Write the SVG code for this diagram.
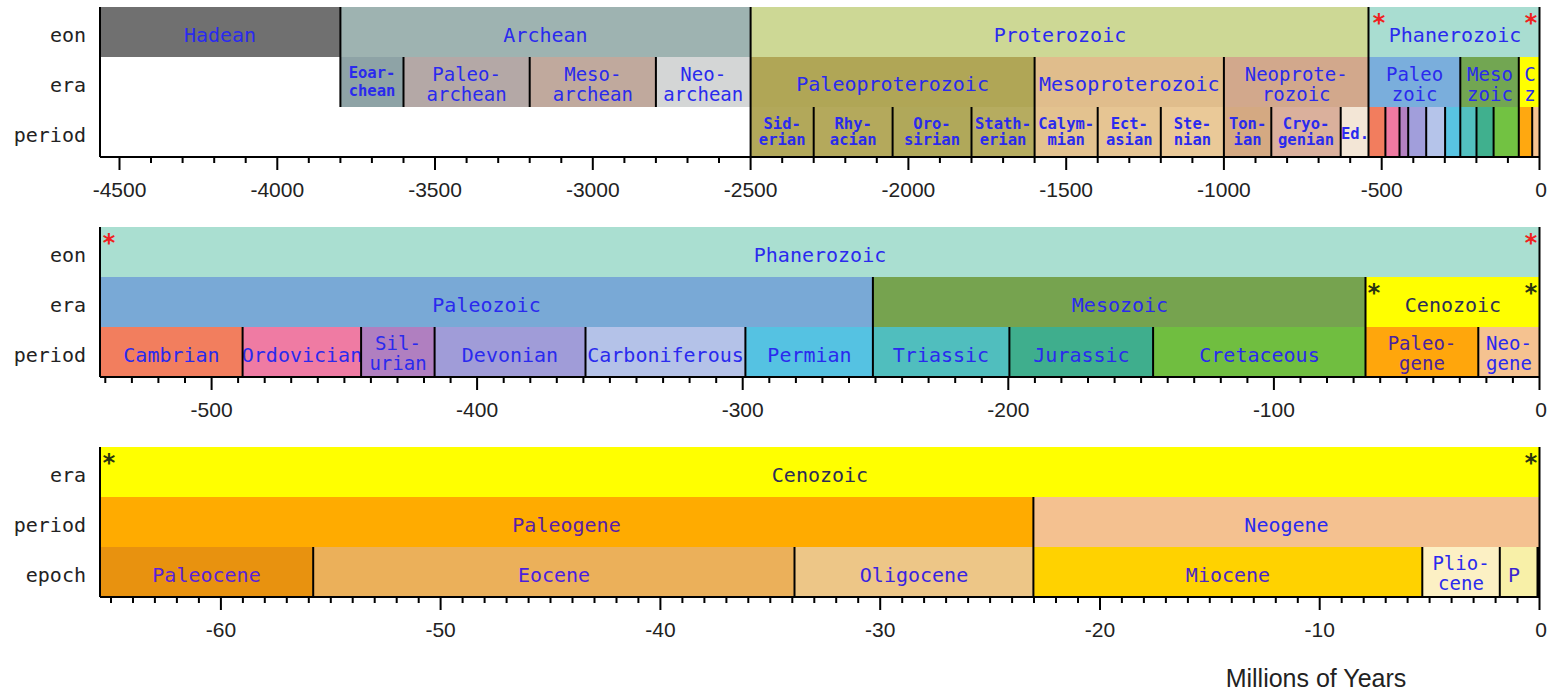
<svg xmlns="http://www.w3.org/2000/svg" width="1550" height="693" viewBox="0 0 1550 693">
<style>
.t{font-family:"DejaVu Sans Mono","Liberation Mono",monospace;font-size:20px;fill:#2a2aee;text-anchor:middle}
.t2{font-family:"DejaVu Sans Mono","Liberation Mono",monospace;font-size:19px;fill:#2a2aee;text-anchor:middle}
.s{font-family:"DejaVu Sans Mono","Liberation Mono",monospace;font-size:15.5px;font-weight:bold;fill:#2a2aee;text-anchor:middle}
.r{font-family:"DejaVu Sans Mono","Liberation Mono",monospace;font-size:20px;fill:#222;text-anchor:end}
.n{font-family:"Liberation Sans",Arial,sans-serif;font-size:21px;fill:#222;text-anchor:middle}
.ast{font-family:"DejaVu Sans Mono",monospace;font-size:24px;font-weight:bold;text-anchor:middle}
.red{fill:#f02020}
.dk{fill:#2a3410}
.sep{stroke:#000;stroke-width:2;fill:none}
.tk{stroke:#000;stroke-width:2;fill:none}
.ttl{font-family:"Liberation Sans",Arial,sans-serif;font-size:25px;fill:#222;text-anchor:middle}
</style>
<rect width="1550" height="693" fill="#fff"/>

<!-- ===== Panel 1 ===== -->
<g id="panel1-labels">
<text class="r" x="86" y="42">eon</text>
<text class="r" x="86" y="92">era</text>
<text class="r" x="86" y="142">period</text>
</g>
<g id="hadean"><rect x="100" y="7" width="240.4" height="50" fill="#707070"/><text class="t" x="220" y="42">Hadean</text></g>
<g id="archean"><rect x="340.4" y="7" width="410.2" height="50" fill="#9eb3b1"/><text class="t" x="545.5" y="42">Archean</text></g>
<g id="proterozoic"><rect x="750.6" y="7" width="617.9" height="50" fill="#cdd895"/><text class="t" x="1060" y="42">Proterozoic</text></g>
<g id="phanerozoic1"><rect x="1368.5" y="7" width="171" height="50" fill="#a9ddd1"/><text class="t" x="1455" y="42">Phanerozoic</text></g>

<g id="eoarchean"><rect x="340.4" y="57" width="63.1" height="50" fill="#8ea3a6"/><text class="s" x="372" y="78">Eoar-</text><text class="s" x="372" y="96">chean</text></g>
<g id="paleoarchean"><rect x="403.5" y="57" width="126.2" height="50" fill="#b4a8a6"/><text class="t2" x="466.6" y="81">Paleo-</text><text class="t2" x="466.6" y="101">archean</text></g>
<g id="mesoarchean"><rect x="529.7" y="57" width="126.2" height="50" fill="#c0a99d"/><text class="t2" x="592.8" y="81">Meso-</text><text class="t2" x="592.8" y="101">archean</text></g>
<g id="neoarchean"><rect x="655.9" y="57" width="94.7" height="50" fill="#d4d6d6"/><text class="t2" x="703.2" y="81">Neo-</text><text class="t2" x="703.2" y="101">archean</text></g>
<g id="paleoproterozoic"><rect x="750.6" y="57" width="284" height="50" fill="#b0a656"/><text class="t" x="892.6" y="91">Paleoproterozoic</text></g>
<g id="mesoproterozoic"><rect x="1034.6" y="57" width="189.3" height="50" fill="#e0bd8c"/><text class="t" x="1129.3" y="91">Mesoproterozoic</text></g>
<g id="neoproterozoic"><rect x="1223.9" y="57" width="144.6" height="50" fill="#d2a88c"/><text class="t2" x="1296.2" y="81">Neoprote-</text><text class="t2" x="1296.2" y="101">rozoic</text></g>
<g id="paleozoic1"><rect x="1368.5" y="57" width="91.8" height="50" fill="#7aaedc"/><text class="t2" x="1414.6" y="81">Paleo</text><text class="t2" x="1414.6" y="101">zoic</text></g>
<g id="mesozoic1"><rect x="1460.3" y="57" width="58.5" height="50" fill="#72a652"/><text class="t2" x="1490" y="81">Meso</text><text class="t2" x="1490" y="101">zoic</text></g>
<g id="cenozoic1"><rect x="1518.8" y="57" width="20.7" height="50" fill="#ffff00"/><text class="t2" x="1530" y="81">C</text><text class="t2" x="1530" y="101">z</text></g>

<g id="siderian"><rect x="750.6" y="107" width="63.1" height="50" fill="#b2a85a"/><text class="s" x="782.2" y="129">Sid-</text><text class="s" x="782.2" y="145">erian</text></g>
<g id="rhyacian"><rect x="813.7" y="107" width="78.9" height="50" fill="#b4a95c"/><text class="s" x="853.2" y="129">Rhy-</text><text class="s" x="853.2" y="145">acian</text></g>
<g id="orosirian"><rect x="892.6" y="107" width="78.9" height="50" fill="#b0a85a"/><text class="s" x="932" y="129">Oro-</text><text class="s" x="932" y="145">sirian</text></g>
<g id="statherian"><rect x="971.5" y="107" width="63.1" height="50" fill="#b6ac60"/><text class="s" x="1003" y="129">Stath-</text><text class="s" x="1003" y="145">erian</text></g>
<g id="calymmian"><rect x="1034.6" y="107" width="63.1" height="50" fill="#e3c28f"/><text class="s" x="1066.2" y="129">Calym-</text><text class="s" x="1066.2" y="145">mian</text></g>
<g id="ectasian"><rect x="1097.7" y="107" width="63.1" height="50" fill="#e6c593"/><text class="s" x="1129.3" y="129">Ect-</text><text class="s" x="1129.3" y="145">asian</text></g>
<g id="stenian"><rect x="1160.8" y="107" width="63.1" height="50" fill="#eac998"/><text class="s" x="1192.4" y="129">Ste-</text><text class="s" x="1192.4" y="145">nian</text></g>
<g id="tonian"><rect x="1223.9" y="107" width="47.4" height="50" fill="#d4a982"/><text class="s" x="1247.6" y="129">Ton-</text><text class="s" x="1247.6" y="145">ian</text></g>
<g id="cryogenian"><rect x="1271.3" y="107" width="69.4" height="50" fill="#dab09c"/><text class="s" x="1306" y="129">Cryo-</text><text class="s" x="1306" y="145">genian</text></g>
<g id="ediacaran"><rect x="1340.7" y="107" width="27.8" height="50" fill="#f3e6d6"/><text class="s" x="1355" y="139">Ed.</text></g>
<g id="phan-periods1">
<rect x="1368.5" y="107" width="16.9" height="50" fill="#f27d5e"/>
<rect x="1385.4" y="107" width="14.1" height="50" fill="#ef7aa2"/>
<rect x="1399.5" y="107" width="8.7" height="50" fill="#b380c0"/>
<rect x="1408.2" y="107" width="18" height="50" fill="#a19edb"/>
<rect x="1426.2" y="107" width="18.9" height="50" fill="#b5c4ea"/>
<rect x="1445.1" y="107" width="15.2" height="50" fill="#58c4e2"/>
<rect x="1460.3" y="107" width="16.2" height="50" fill="#52c0c0"/>
<rect x="1476.5" y="107" width="17.1" height="50" fill="#40b08e"/>
<rect x="1493.6" y="107" width="25.2" height="50" fill="#72c242"/>
<rect x="1518.8" y="107" width="13.4" height="50" fill="#ffa810"/>
<rect x="1532.2" y="107" width="7.3" height="50" fill="#f5c290"/>
</g>
<g id="ast1">
<text class="ast red" x="1379" y="31">*</text>
<text class="ast red" x="1531" y="31">*</text>
</g>

<!-- ===== Panel 2 ===== -->
<g id="panel2-labels">
<text class="r" x="86" y="262">eon</text>
<text class="r" x="86" y="312">era</text>
<text class="r" x="86" y="362">period</text>
</g>
<g id="phanerozoic2"><rect x="100" y="227" width="1439.5" height="50" fill="#aadfd1"/><text class="t" x="820" y="262">Phanerozoic</text></g>
<g id="paleozoic2"><rect x="100" y="277" width="772.9" height="50" fill="#79a9d6"/><text class="t" x="486.5" y="312">Paleozoic</text></g>
<g id="mesozoic2"><rect x="872.9" y="277" width="492.6" height="50" fill="#76a34f"/><text class="t" x="1120" y="312">Mesozoic</text></g>
<g id="cenozoic2"><rect x="1365.5" y="277" width="174" height="50" fill="#ffff00"/><text class="t" x="1453" y="312" style="fill:#2c2c58">Cenozoic</text></g>
<g id="cambrian"><rect x="100" y="327" width="142.6" height="50" fill="#f27e5e"/><text class="t" x="171.5" y="362">Cambrian</text></g>
<g id="ordovician"><rect x="242.6" y="327" width="118.5" height="50" fill="#ef7ba3"/><text class="t" x="302" y="362">Ordovician</text></g>
<g id="silurian"><rect x="361.1" y="327" width="73.5" height="50" fill="#b07fc0"/><text class="t2" x="398" y="350">Sil-</text><text class="t2" x="398" y="370">urian</text></g>
<g id="devonian"><rect x="434.6" y="327" width="150.9" height="50" fill="#a09cd8"/><text class="t" x="510" y="362">Devonian</text></g>
<g id="carboniferous"><rect x="585.5" y="327" width="159.9" height="50" fill="#b4c2e8"/><text class="t" x="665.5" y="362">Carboniferous</text></g>
<g id="permian"><rect x="745.4" y="327" width="127.5" height="50" fill="#55c2e2"/><text class="t" x="809.5" y="362">Permian</text></g>
<g id="triassic"><rect x="872.9" y="327" width="136.5" height="50" fill="#50bebe"/><text class="t" x="941" y="362">Triassic</text></g>
<g id="jurassic"><rect x="1009.4" y="327" width="143.7" height="50" fill="#3fae8d"/><text class="t" x="1081.5" y="362">Jurassic</text></g>
<g id="cretaceous"><rect x="1153.1" y="327" width="212.4" height="50" fill="#70be40"/><text class="t" x="1259.5" y="362">Cretaceous</text></g>
<g id="paleogene2"><rect x="1365.5" y="327" width="112.8" height="50" fill="#ffa60c"/><text class="t2" x="1422" y="350" style="fill:#4a22a0">Paleo-</text><text class="t2" x="1422" y="370" style="fill:#4a22a0">gene</text></g>
<g id="neogene2"><rect x="1478.3" y="327" width="61.2" height="50" fill="#f5c290"/><text class="t2" x="1509" y="350">Neo-</text><text class="t2" x="1509" y="370">gene</text></g>
<g id="ast2">
<text class="ast red" x="109" y="251">*</text>
<text class="ast red" x="1531" y="251">*</text>
<text class="ast dk" x="1374" y="301">*</text>
<text class="ast dk" x="1531" y="301">*</text>
</g>

<!-- ===== Panel 3 ===== -->
<g id="panel3-labels">
<text class="r" x="86" y="482">era</text>
<text class="r" x="86" y="532">period</text>
<text class="r" x="86" y="582">epoch</text>
</g>
<g id="cenozoic3"><rect x="100" y="447" width="1439.5" height="50" fill="#ffff00"/><text class="t" x="820" y="482" style="fill:#2c2c58">Cenozoic</text></g>
<g id="paleogene3"><rect x="100" y="497" width="933.4" height="50" fill="#ffab00"/><text class="t" x="566.5" y="532" style="fill:#5a20a8">Paleogene</text></g>
<g id="neogene3"><rect x="1033.4" y="497" width="506.1" height="50" fill="#f4c190"/><text class="t" x="1286.5" y="532">Neogene</text></g>
<g id="paleocene"><rect x="100" y="547" width="213.2" height="50" fill="#e8920f"/><text class="t" x="206.5" y="582" style="fill:#5a22d8">Paleocene</text></g>
<g id="eocene"><rect x="313.2" y="547" width="481.3" height="50" fill="#ebb05a"/><text class="t" x="554" y="582" style="fill:#4a1ee0">Eocene</text></g>
<g id="oligocene"><rect x="794.5" y="547" width="238.9" height="50" fill="#edc687"/><text class="t" x="914" y="582" style="fill:#3a24e0">Oligocene</text></g>
<g id="miocene"><rect x="1033.4" y="547" width="388.9" height="50" fill="#ffd200"/><text class="t" x="1228" y="582" style="fill:#4a26c8">Miocene</text></g>
<g id="pliocene"><rect x="1422.3" y="547" width="77.5" height="50" fill="#fcf0c4"/><text class="t2" x="1461" y="570">Plio-</text><text class="t2" x="1461" y="590">cene</text></g>
<g id="pleistocene"><rect x="1499.8" y="547" width="37.2" height="50" fill="#f8f0a8"/><text class="t" x="1514" y="582" style="fill:#3a24d0">P</text></g>
<g id="holocene"><rect x="1536.5" y="547" width="3" height="50" fill="#000"/></g>
<g id="ast3">
<text class="ast dk" x="109" y="471">*</text>
<text class="ast dk" x="1531" y="471">*</text>
</g>

<!-- ===== separators, axes, ticks ===== -->
<g id="connectors">
<path class="sep" d="M100 7V157 M340.4 7V107 M403.5 57V107 M529.7 57V107 M655.9 57V107 M750.6 7V157 M813.7 107V157 M892.6 107V157 M971.5 107V157 M1034.6 57V157 M1097.7 107V157 M1160.8 107V157 M1223.9 57V157 M1271.3 107V157 M1340.7 107V157 M1368.5 7V157 M1385.4 107V157 M1399.5 107V157 M1408.2 107V157 M1426.2 107V157 M1445.1 107V157 M1460.3 57V157 M1476.5 107V157 M1493.6 107V157 M1518.8 57V157 M1532.2 107V157 M1539.5 7V157 M100 157H1539.5"/>
<path class="sep" d="M100 227V377 M1539.5 227V377 M872.9 277V377 M1365.5 277V377 M242.6 327V377 M361.1 327V377 M434.6 327V377 M585.5 327V377 M745.4 327V377 M1009.4 327V377 M1153.1 327V377 M1478.3 327V377 M100 377H1539.5"/>
<path class="sep" d="M100 447V597 M1539.5 447V597 M1033.4 497V597 M313.2 547V597 M794.5 547V597 M1422.3 547V597 M1499.8 547V597 M100 597H1539.5"/>
<path class="tk" d="M1507.9 157v6M1476.4 157v6M1444.8 157v6M1413.3 157v6M1350.2 157v6M1318.6 157v6M1287.1 157v6M1255.5 157v6M1192.4 157v6M1160.8 157v6M1129.3 157v6M1097.7 157v6M1034.6 157v6M1003.1 157v6M971.5 157v6M939.9 157v6M876.8 157v6M845.3 157v6M813.7 157v6M782.2 157v6M719 157v6M687.5 157v6M655.9 157v6M624.4 157v6M561.3 157v6M529.7 157v6M498.2 157v6M466.6 157v6M403.5 157v6M371.9 157v6M340.4 157v6M308.8 157v6M245.7 157v6M214.2 157v6M182.6 157v6M151 157v6"/>
<path class="tk" d="M1539.5 157v13M1381.7 157v13M1223.9 157v13M1066.2 157v13M908.4 157v13M750.6 157v13M592.8 157v13M435 157v13M277.3 157v13M119.5 157v13"/>
<path class="tk" d="M1512.9 377v6M1486.4 377v6M1459.8 377v6M1433.3 377v6M1406.7 377v6M1380.2 377v6M1353.6 377v6M1327 377v6M1300.5 377v6M1247.4 377v6M1220.8 377v6M1194.2 377v6M1167.7 377v6M1141.1 377v6M1114.6 377v6M1088 377v6M1061.4 377v6M1034.9 377v6M981.8 377v6M955.2 377v6M928.6 377v6M902.1 377v6M875.5 377v6M849 377v6M822.4 377v6M795.9 377v6M769.3 377v6M716.2 377v6M689.6 377v6M663.1 377v6M636.5 377v6M609.9 377v6M583.4 377v6M556.8 377v6M530.3 377v6M503.7 377v6M450.6 377v6M424 377v6M397.5 377v6M370.9 377v6M344.4 377v6M317.8 377v6M291.2 377v6M264.7 377v6M238.1 377v6M185 377v6M158.4 377v6M131.9 377v6M105.3 377v6"/>
<path class="tk" d="M1539.5 377v13M1273.9 377v13M1008.3 377v13M742.7 377v13M477.1 377v13M211.6 377v13"/>
<path class="tk" d="M1517.5 597v6M1495.6 597v6M1473.6 597v6M1451.6 597v6M1429.6 597v6M1407.6 597v6M1385.7 597v6M1363.7 597v6M1341.7 597v6M1297.8 597v6M1275.8 597v6M1253.8 597v6M1231.8 597v6M1209.8 597v6M1187.9 597v6M1165.9 597v6M1143.9 597v6M1121.9 597v6M1078 597v6M1056 597v6M1034 597v6M1012.1 597v6M990.1 597v6M968.1 597v6M946.1 597v6M924.1 597v6M902.2 597v6M858.2 597v6M836.2 597v6M814.3 597v6M792.3 597v6M770.3 597v6M748.3 597v6M726.4 597v6M704.4 597v6M682.4 597v6M638.4 597v6M616.5 597v6M594.5 597v6M572.5 597v6M550.5 597v6M528.6 597v6M506.6 597v6M484.6 597v6M462.6 597v6M418.7 597v6M396.7 597v6M374.7 597v6M352.7 597v6M330.8 597v6M308.8 597v6M286.8 597v6M264.8 597v6M242.9 597v6M198.9 597v6M176.9 597v6M154.9 597v6M133 597v6M111 597v6"/>
<path class="tk" d="M1539.5 597v13M1319.7 597v13M1100 597v13M880.2 597v13M660.4 597v13M440.6 597v13M220.9 597v13"/>
</g>

<g id="axis-numbers">
<text class="n" x="119.5" y="197">-4500</text>
<text class="n" x="277.3" y="197">-4000</text>
<text class="n" x="435" y="197">-3500</text>
<text class="n" x="592.8" y="197">-3000</text>
<text class="n" x="750.6" y="197">-2500</text>
<text class="n" x="908.4" y="197">-2000</text>
<text class="n" x="1066.2" y="197">-1500</text>
<text class="n" x="1223.9" y="197">-1000</text>
<text class="n" x="1381.7" y="197">-500</text>
<text class="n" x="1541" y="197">0</text>
<text class="n" x="211.6" y="417">-500</text>
<text class="n" x="477.1" y="417">-400</text>
<text class="n" x="742.7" y="417">-300</text>
<text class="n" x="1008.3" y="417">-200</text>
<text class="n" x="1273.9" y="417">-100</text>
<text class="n" x="1541" y="417">0</text>
<text class="n" x="220.9" y="637">-60</text>
<text class="n" x="440.6" y="637">-50</text>
<text class="n" x="660.4" y="637">-40</text>
<text class="n" x="880.2" y="637">-30</text>
<text class="n" x="1100" y="637">-20</text>
<text class="n" x="1319.7" y="637">-10</text>
<text class="n" x="1541" y="637">0</text>
<text class="ttl" x="1316" y="687">Millions of Years</text>
</g>
</svg>
